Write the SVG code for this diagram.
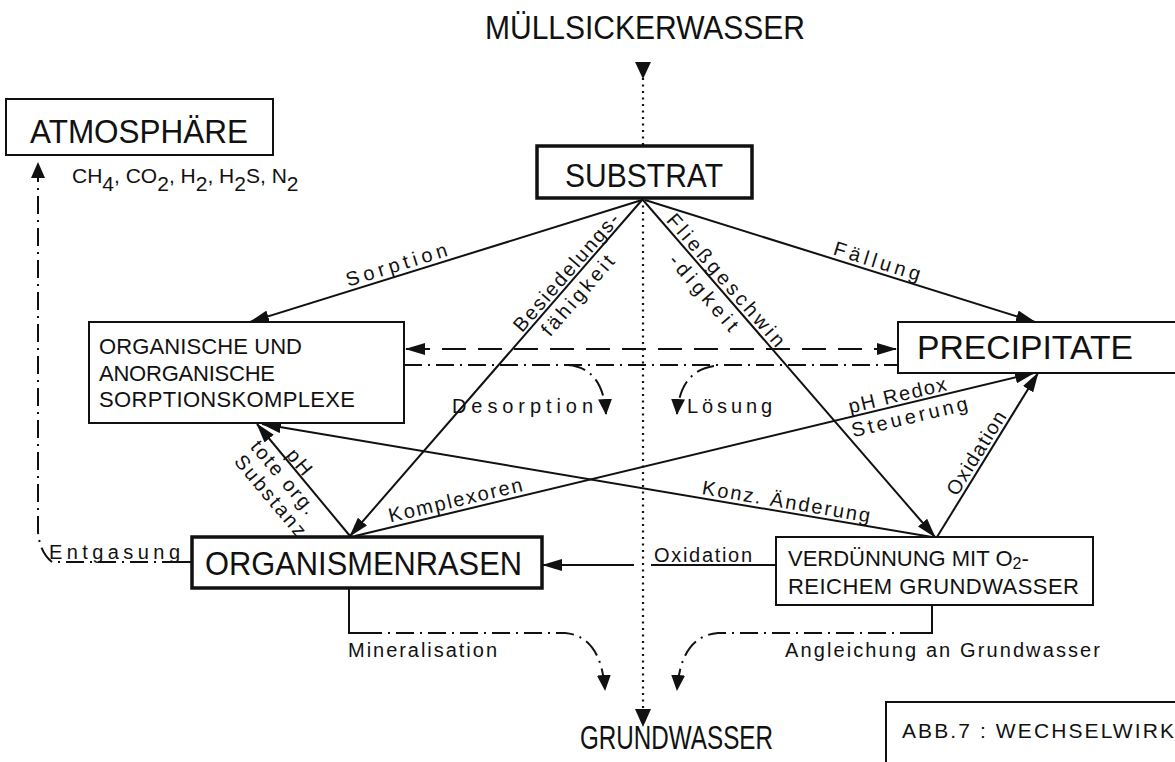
<svg xmlns="http://www.w3.org/2000/svg" width="1175" height="762" viewBox="0 0 1175 762">
  <defs>
    <style>
      text { font-family: "Liberation Sans", Arial, sans-serif; fill: #111; }
      .big { font-size: 33px; }
      .mid { font-size: 22px; }
      .lab { font-size: 20px; }
      .box { fill: #fff; stroke: #111; stroke-width: 2; }
      .box-heavy { fill: #fff; stroke: #111; stroke-width: 3.5; }
      .ln { fill: none; stroke: #111; stroke-width: 2; }
      .dash { fill: none; stroke: #111; stroke-width: 2.2; stroke-dasharray: 24 12; }
      .dashdot { fill: none; stroke: #111; stroke-width: 2; stroke-dasharray: 18 6 2 6; }
      .dot { fill: none; stroke: #111; stroke-width: 2.2; stroke-dasharray: 2 4.5; }
      .head { fill: #111; }
    </style>
    <marker id="ah" viewBox="0 0 20 12" markerWidth="20" markerHeight="12" refX="19" refY="6" orient="auto" markerUnits="userSpaceOnUse">
      <path d="M0,0 L20,6 L0,12 Z" fill="#111"/>
    </marker>
    <marker id="ah2" viewBox="0 0 20 12" markerWidth="20" markerHeight="12" refX="19" refY="6" orient="auto-start-reverse" markerUnits="userSpaceOnUse">
      <path d="M0,0 L20,6 L0,12 Z" fill="#111"/>
    </marker>
    <marker id="tri" viewBox="0 0 16 14" markerWidth="16" markerHeight="14" refX="15" refY="7" orient="auto" markerUnits="userSpaceOnUse">
      <path d="M0,0 L16,7 L0,14 Z" fill="#111"/>
    </marker>
  </defs>

  <rect width="1175" height="762" fill="#fff"/>

  <!-- connectors -->
  <g id="connectors">
    <!-- central dotted flow: Müllsickerwasser -> Substrat -> Grundwasser -->
    <path class="dot" d="M643,78 V146"/>
    <polygon class="head" points="635,62 651,62 643,79"/>
    <path class="dot" d="M643,199 V712"/>
    <polygon class="head" points="635,709 651,709 643,727"/>

    <!-- from Substrat -->
    <path class="ln" d="M642,200 L250,322" marker-end="url(#ah)"/>
    <path class="ln" d="M645,200 L1035,322" marker-end="url(#ah)"/>
    <path class="ln" d="M642,200 L350,536" marker-end="url(#ah)"/>
    <path class="ln" d="M643,200 L935,537" marker-end="url(#ah)"/>

    <!-- exchange between sorption complexes and precipitates -->
    <path class="dash" d="M406,349 H896" marker-start="url(#ah2)" marker-end="url(#ah2)"/>
    <path class="dashdot" d="M404,365 H898"/>
    <path class="dashdot" d="M568,365 Q603,368 606,414" marker-end="url(#tri)"/>
    <path class="dashdot" d="M714,366 Q680,371 677,414" marker-end="url(#tri)"/>

    <!-- from Organismenrasen -->
    <path class="ln" d="M355,536 L1034,373" marker-end="url(#ah)"/>
    <path class="ln" d="M350,536 L257,424" marker-end="url(#ah)"/>

    <!-- from Verdünnung -->
    <path class="ln" d="M932,537 L262,424" marker-end="url(#ah)"/>
    <path class="ln" d="M937,537 L1038,373" marker-end="url(#ah)"/>
    <path class="ln" d="M776,565 H651"/>
    <path class="ln" d="M634,565 H543" marker-end="url(#ah)"/>

    <!-- degassing to the atmosphere -->
    <path class="ln" d="M192,562 H178"/>
    <path class="dashdot" d="M180,562 H52 Q40,553 38,532 V163" marker-end="url(#tri)"/>

    <!-- towards groundwater -->
    <path class="ln" d="M349,588 V633 H364"/>
    <path class="dashdot" d="M364,633 H565 Q601,636 605,690" marker-end="url(#tri)"/>
    <path class="ln" d="M932,605 V633 H918"/>
    <path class="dashdot" d="M918,633 H718 Q681,636 677,690" marker-end="url(#tri)"/>
  </g>

  <!-- nodes -->
  <g id="muellsickerwasser">
    <text class="big" x="485" y="39" font-size="32" textLength="320" lengthAdjust="spacingAndGlyphs">MÜLLSICKERWASSER</text>
  </g>

  <g id="atmosphaere">
    <rect class="box" x="6" y="99" width="267" height="56"/>
    <text class="big" x="30" y="143" textLength="218" lengthAdjust="spacingAndGlyphs">ATMOSPHÄRE</text>
    <text x="72" y="183" font-size="21">CH<tspan dy="8">4</tspan><tspan dy="-8">, CO</tspan><tspan dy="8">2</tspan><tspan dy="-8">, H</tspan><tspan dy="8">2</tspan><tspan dy="-8">, H</tspan><tspan dy="8">2</tspan><tspan dy="-8">S, N</tspan><tspan dy="8">2</tspan></text>
  </g>

  <g id="substrat">
    <rect class="box-heavy" x="537" y="146" width="215" height="52"/>
    <text class="big" x="565" y="187" textLength="158" lengthAdjust="spacingAndGlyphs">SUBSTRAT</text>
  </g>

  <g id="sorptionskomplexe">
    <rect class="box" x="89" y="322" width="315" height="101"/>
    <text class="mid" x="99" y="354" font-size="21" textLength="203">ORGANISCHE UND</text>
    <text class="mid" x="99" y="381" font-size="21" textLength="176">ANORGANISCHE</text>
    <text class="mid" x="99" y="407" font-size="21" textLength="256">SORPTIONSKOMPLEXE</text>
  </g>

  <g id="precipitate">
    <rect class="box" x="898" y="322" width="290" height="51"/>
    <text class="big" x="917" y="359" textLength="216" lengthAdjust="spacingAndGlyphs">PRECIPITATE</text>
  </g>

  <g id="organismenrasen">
    <rect class="box-heavy" x="192" y="537" width="350" height="51"/>
    <text class="big" x="205" y="575" textLength="317" lengthAdjust="spacingAndGlyphs">ORGANISMENRASEN</text>
  </g>

  <g id="verduennung">
    <rect class="box" x="776" y="537" width="317" height="68"/>
    <text class="mid" x="788" y="566">VERDÜNNUNG MIT O<tspan dy="3" font-size="16">2</tspan><tspan dy="-3">-</tspan></text>
    <text class="mid" x="788" y="594" textLength="291">REICHEM  GRUNDWASSER</text>
  </g>

  <g id="grundwasser">
    <text class="big" x="580" y="749" font-size="30" textLength="193" lengthAdjust="spacingAndGlyphs">GRUNDWASSER</text>
  </g>

  <g id="caption">
    <path class="ln" d="M886,762 V702 H1175"/>
    <text x="902" y="738" font-size="21" textLength="272">ABB.7 : WECHSELWIRK</text>
  </g>

  <!-- connector labels -->
  <g id="labels" class="lab">
    <text transform="translate(399.7,275) rotate(-17.2)" y="-4" text-anchor="middle" textLength="105" font-size="20">Sorption</text>
    <text transform="translate(873.9,271.5) rotate(17.4)" y="-4" text-anchor="middle" textLength="90" font-size="20">Fällung</text>
    <text transform="translate(573.5,278.6) rotate(-48.9)" y="-3" text-anchor="middle" textLength="150" font-size="20">Besiedelungs-</text>
    <text transform="translate(567,286.1) rotate(-48.9)" y="21" text-anchor="middle" textLength="100" font-size="20">fähigkeit</text>
    <text transform="translate(717.8,287.2) rotate(49)" y="-4" text-anchor="middle" textLength="169" font-size="20">Fließgeschwin</text>
    <text transform="translate(714.4,283.3) rotate(49)" y="21" text-anchor="middle" textLength="95" font-size="20">-digkeit</text>
    <text x="452" y="413" textLength="141" font-size="20">Desorption</text>
    <text x="687" y="413" textLength="85" font-size="20">Lösung</text>
    <text transform="translate(291.9,468.2) rotate(50)" y="-3" text-anchor="middle" textLength="28" font-size="20">pH</text>
    <text transform="translate(292.9,469.4) rotate(50)" y="19" text-anchor="middle" textLength="90" font-size="20">tote org.</text>
    <text transform="translate(296.7,473.7) rotate(50)" y="41" text-anchor="middle" textLength="100" font-size="20">Substanz</text>
    <text transform="translate(457.9,510.6) rotate(-13.4)" y="-4" text-anchor="middle" textLength="137" font-size="20">Komplexoren</text>
    <text transform="translate(899.7,405.7) rotate(-13.4)" y="-4" text-anchor="middle" textLength="100" font-size="20">pH Redox</text>
    <text transform="translate(906.4,404.1) rotate(-13.4)" y="20" text-anchor="middle" textLength="119" font-size="20">Steuerung</text>
    <text transform="translate(784.5,512.2) rotate(9.6)" y="-4" text-anchor="middle" textLength="170" font-size="20">Konz. Änderung</text>
    <text transform="translate(985.4,458.8) rotate(-58.2)" y="-4" text-anchor="middle" textLength="95" font-size="20">Oxidation</text>
    <text x="654" y="562" textLength="98" font-size="20">Oxidation</text>
    <text x="49" y="559" textLength="131" font-size="20">Entgasung</text>
    <text x="348" y="657" textLength="149" font-size="20">Mineralisation</text>
    <text x="785" y="657" textLength="315" font-size="20">Angleichung an Grundwasser</text>
  </g>
</svg>
